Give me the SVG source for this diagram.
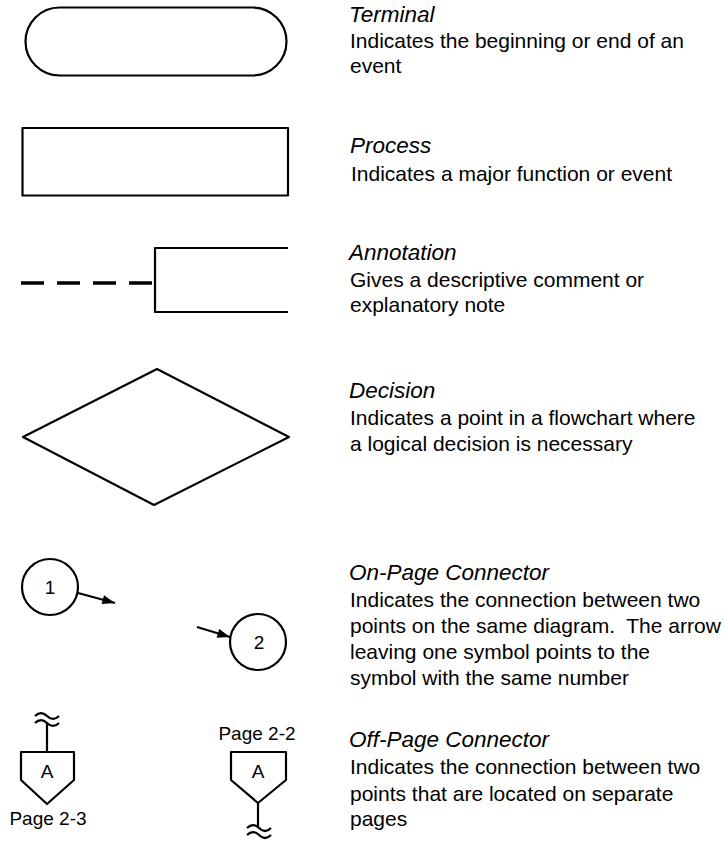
<svg xmlns="http://www.w3.org/2000/svg" width="725" height="845" viewBox="0 0 725 845">
<style>
.s{fill:none;stroke:#000;stroke-width:2.2;stroke-linejoin:round}
.t{font-family:"Liberation Sans",Arial,sans-serif;font-size:21px;fill:#000}
.h{font-family:"Liberation Sans",Arial,sans-serif;font-size:22.5px;font-style:italic;fill:#000}
.l{font-family:"Liberation Sans",Arial,sans-serif;font-size:19px;fill:#000;text-anchor:middle}
</style>
<defs>
<marker id="ah" viewBox="0 0 14 10" refX="14" refY="5" markerWidth="14" markerHeight="9" markerUnits="userSpaceOnUse" orient="auto">
<path d="M0,0 L14,5 L0,10 Z" fill="#000"/>
</marker>
</defs>
<rect width="725" height="845" fill="#fff"/>

<g id="terminal">
<rect class="s" x="25.5" y="7.5" width="261" height="68" rx="34" ry="34"/>
</g>
<g id="process">
<rect class="s" x="22.5" y="128" width="265.5" height="67.5"/>
</g>
<g id="annotation">
<path class="s" d="M288,248 H155 V312 H288"/>
<path d="M21,283 H155" fill="none" stroke="#000" stroke-width="3.5" stroke-dasharray="23 13"/>
</g>
<g id="decision">
<polygon class="s" points="157,369 289,437 154,505 23,437"/>
</g>
<g id="onpage1">
<circle class="s" cx="50" cy="587" r="28"/>
<text class="l" x="50" y="594">1</text>
</g>
<g id="onpage2">
<circle class="s" cx="258" cy="642" r="28"/>
<text class="l" x="259" y="649">2</text>
</g>
<g id="offpage1">
<polygon class="s" points="21,752 74,752 74,780 47,804 21,780"/>
<text class="l" x="47" y="778">A</text>
<path class="s" d="M47,752 V723"/>
<path class="s" d="M35,716 C39,712 43,712 47,716 S55,720 59,716"/>
<path class="s" d="M35,723 C39,719 43,719 47,723 S55,727 59,723"/>
<text class="l" x="48" y="825">Page 2-3</text>
</g>
<g id="offpage2">
<polygon class="s" points="231,752 286,752 286,780 258,803 231,780"/>
<text class="l" x="258" y="778">A</text>
<path class="s" d="M258,803 V828"/>
<path class="s" d="M247,828 C251,824 255,824 259,828 S267,832 271,828"/>
<path class="s" d="M247,835 C251,831 255,831 259,835 S267,839 271,835"/>
<text class="l" x="257" y="740">Page 2-2</text>
</g>

<g id="connectors">
<line x1="78" y1="593" x2="115" y2="603" stroke="#000" stroke-width="2" marker-end="url(#ah)"/>
<line x1="197" y1="627" x2="230" y2="637" stroke="#000" stroke-width="2" marker-end="url(#ah)"/>
</g>

<g id="labels">
<text class="h" x="349" y="22">Terminal</text>
<text class="t" x="350" y="48">Indicates the beginning or end of an</text>
<text class="t" x="350" y="73">event</text>

<text class="h" x="350" y="153">Process</text>
<text class="t" x="351" y="181">Indicates a major function or event</text>

<text class="h" x="349" y="260">Annotation</text>
<text class="t" x="350" y="287">Gives a descriptive comment or</text>
<text class="t" x="350" y="312">explanatory note</text>

<text class="h" x="349" y="398">Decision</text>
<text class="t" x="350" y="425">Indicates a point in a flowchart where</text>
<text class="t" x="350" y="451">a logical decision is necessary</text>

<text class="h" x="349" y="580">On-Page Connector</text>
<text class="t" x="350" y="607">Indicates the connection between two</text>
<text class="t" x="350" y="633">points on the same diagram.&#160; The arrow</text>
<text class="t" x="350" y="659">leaving one symbol points to the</text>
<text class="t" x="350" y="685">symbol with the same number</text>

<text class="h" x="349" y="747">Off-Page Connector</text>
<text class="t" x="350" y="774">Indicates the connection between two</text>
<text class="t" x="350" y="801">points that are located on separate</text>
<text class="t" x="350" y="826">pages</text>
</g>
</svg>
